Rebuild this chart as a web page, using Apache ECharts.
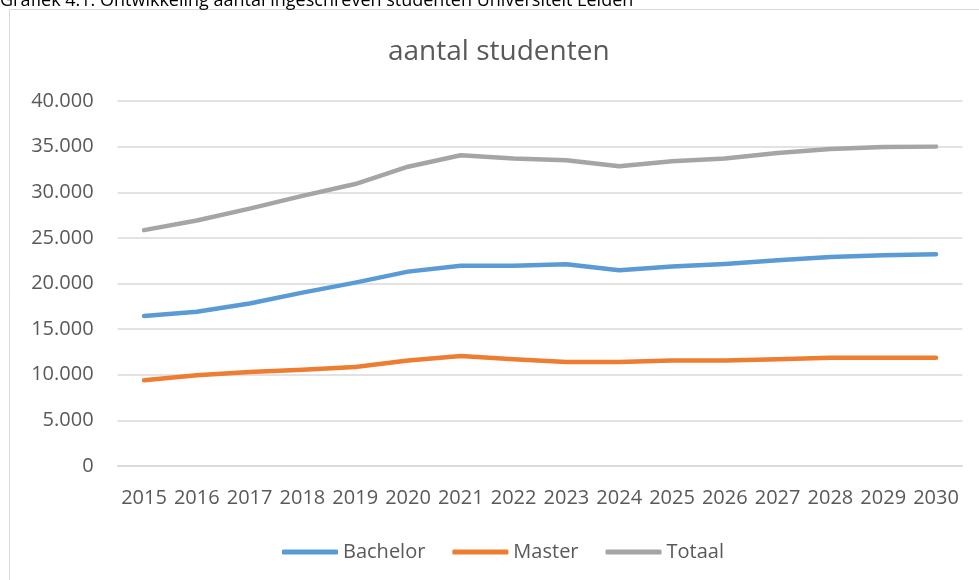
<!DOCTYPE html>
<html lang="nl">
<head>
    <meta charset="UTF-8">
    <title>aantal studenten</title>
    <script src="https://cdn.jsdelivr.net/npm/echarts@6/dist/echarts.min.js"></script>
    <style>
        html, body { margin: 0; padding: 0; background: #fff; }
        #chart { width: 979px; height: 580px; }
    </style>
</head>
<body>
<div id="chart"></div>
<script>
    var years = ['2015', '2016', '2017', '2018', '2019', '2020', '2021', '2022',
        '2023', '2024', '2025', '2026', '2027', '2028', '2029', '2030'];
    var bachelor = [16450, 16900, 17800, 19000, 20100, 21300, 21950, 21950,
        22100, 21450, 21850, 22150, 22550, 22900, 23100, 23200];
    var master = [9400, 9950, 10300, 10550, 10850, 11550, 12050, 11700,
        11400, 11400, 11550, 11550, 11700, 11850, 11850, 11850];
    var totaal = [25850, 26900, 28200, 29600, 30900, 32800, 34050, 33700,
        33500, 32850, 33400, 33700, 34300, 34750, 34950, 35000];

    var font = '"Open Sans", sans-serif';
    var grey = '#595959';

    function dots(v) {
        return String(v).replace(/\B(?=(\d{3})+(?!\d))/g, '.');
    }

    function line(name, data, color) {
        return {
            name: name,
            type: 'line',
            data: data,
            symbol: 'none',
            smooth: false,
            lineStyle: { color: color, width: 4.5, cap: 'round', join: 'round' },
            itemStyle: { color: color }
        };
    }

    var chart = echarts.init(document.getElementById('chart'));
    chart.setOption({
        animation: false,
        title: {
            text: 'aantal studenten',
            left: 383,
            top: 33,
            textStyle: { fontFamily: font, fontSize: 28, fontWeight: 'normal', color: grey }
        },
        graphic: [{
            type: 'rect',
            shape: { x: 9.5, y: 9.5, width: 1000, height: 600 },
            style: { fill: 'none', stroke: '#D9D9D9', lineWidth: 1 }
        }, {
            type: 'text',
            x: 0,
            y: 10,
            style: {
                text: 'Grafiek 4.1: Ontwikkeling aantal ingeschreven studenten Universiteit Leiden',
                font: '18px "Open Sans", sans-serif',
                fill: '#000',
                verticalAlign: 'bottom'
            }
        }],
        legend: {
            left: 277,
            top: 537,
            icon: 'roundRect',
            itemWidth: 56,
            itemHeight: 5,
            itemGap: 27,
            textStyle: { fontFamily: font, fontSize: 20, color: grey }
        },
        grid: { left: 117.6, right: 16.6, top: 101, bottom: 114 },
        xAxis: {
            type: 'category',
            data: years,
            boundaryGap: true,
            axisLine: { lineStyle: { color: '#D9D9D9', width: 1.5 } },
            axisTick: { show: false },
            axisLabel: { fontFamily: font, fontSize: 20, color: grey, margin: 22, interval: 0 }
        },
        yAxis: {
            type: 'value',
            min: 0,
            max: 40000,
            interval: 5000,
            axisLine: { show: false },
            axisTick: { show: false },
            splitLine: { lineStyle: { color: '#D9D9D9', width: 1.5 } },
            axisLabel: { fontFamily: font, fontSize: 20, color: grey, margin: 24, formatter: dots }
        },
        series: [
            line('Bachelor', bachelor, '#5B9BD5'),
            line('Master', master, '#ED7D31'),
            line('Totaal', totaal, '#A5A5A5')
        ]
    });
</script>
</body>
</html>
